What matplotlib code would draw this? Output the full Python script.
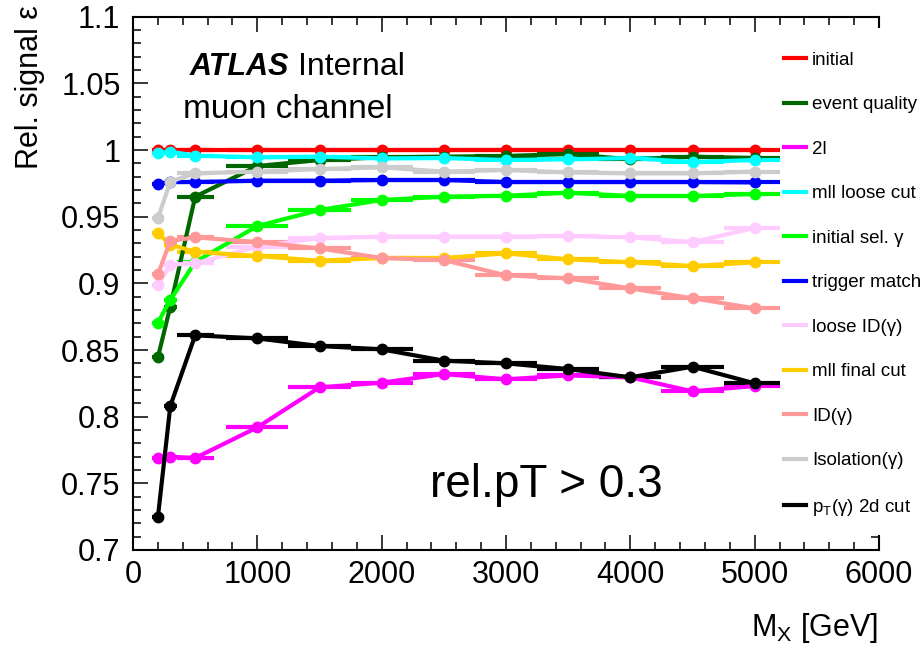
import matplotlib
matplotlib.use("Agg")
import matplotlib.pyplot as plt
from matplotlib.lines import Line2D
from matplotlib.patches import Rectangle
from matplotlib.ticker import MultipleLocator, FuncFormatter
import numpy as np

plt.rcParams['font.family'] = ['Liberation Sans', 'DejaVu Sans']
plt.rcParams['mathtext.fontset'] = 'custom'
plt.rcParams['mathtext.rm'] = 'Liberation Sans'
plt.rcParams['mathtext.it'] = 'Liberation Sans:italic'

# Signal mass points [GeV] and bin half-widths
mass = [200, 300, 500, 1000, 1500, 2000, 2500, 3000, 3500, 4000, 4500, 5000]
err_lo = [50, 50, 150, 250, 250, 250, 250, 250, 250, 250, 250, 250]
err_hi = [50, 50, 150, 250, 250, 250, 250, 250, 250, 250, 250, 200]

# Relative signal efficiency after each selection step
eff_initial = [1.0, 1.0, 1.0, 1.0, 1.0, 1.0, 1.0, 1.0, 1.0, 1.0, 1.0, 1.0]
eff_event_quality = [0.8445, 0.8825, 0.965, 0.988, 0.9925, 0.9945, 0.995, 0.9955, 0.997, 0.993, 0.995, 0.994]
eff_2l = [0.769, 0.770, 0.769, 0.792, 0.822, 0.8255, 0.832, 0.828, 0.831, 0.8295, 0.819, 0.823]
eff_mll_loose = [0.9975, 0.9988, 0.9958, 0.9945, 0.995, 0.9937, 0.994, 0.9925, 0.993, 0.994, 0.991, 0.9925]
eff_initial_sel_gamma = [0.8705, 0.8875, 0.916, 0.943, 0.955, 0.9625, 0.965, 0.9657, 0.968, 0.9655, 0.9655, 0.967]
eff_trigger_match = [0.9745, 0.976, 0.976, 0.977, 0.977, 0.9775, 0.9775, 0.976, 0.976, 0.976, 0.976, 0.9757]
eff_loose_id = [0.8985, 0.914, 0.915, 0.9275, 0.934, 0.935, 0.935, 0.935, 0.9355, 0.9345, 0.931, 0.9415]
eff_mll_final = [0.9375, 0.929, 0.9237, 0.9205, 0.917, 0.919, 0.919, 0.9225, 0.918, 0.9158, 0.913, 0.9158]
eff_id = [0.9067, 0.9318, 0.9345, 0.931, 0.9262, 0.919, 0.9175, 0.906, 0.9037, 0.8962, 0.8888, 0.8813]
eff_isolation = [0.9487, 0.9763, 0.9825, 0.9838, 0.9857, 0.987, 0.9838, 0.985, 0.9832, 0.9825, 0.9825, 0.9838]
eff_pt_2d = [0.7245, 0.808, 0.861, 0.8587, 0.853, 0.8505, 0.842, 0.840, 0.8357, 0.8295, 0.8375, 0.825]

labels = ["initial", "event quality", "2l", "mll loose cut", "initial sel. γ",
          "trigger match", "loose ID(γ)", "mll final cut", "ID(γ)",
          "Isolation(γ)", r"p$_{\mathrm{T}}$(γ) 2d cut"]
series = [eff_initial, eff_event_quality, eff_2l, eff_mll_loose, eff_initial_sel_gamma,
          eff_trigger_match, eff_loose_id, eff_mll_final, eff_id, eff_isolation, eff_pt_2d]
colors = ["#ff0000", "#006600", "#ff00ff", "#00ffff", "#00ff00",
          "#0000ff", "#ffccff", "#ffcc00", "#ff9999", "#cccccc", "#000000"]

W, H = 924, 646
fig = plt.figure(figsize=(W / 100, H / 100), dpi=100)
ax = fig.add_axes([133 / W, 1 - 550 / H, (879 - 133) / W, (550 - 16.7) / H])

for vals, col in zip(series, colors):
    ax.errorbar(mass, vals, xerr=[err_lo, err_hi], fmt='-o', color=col,
                lw=3, elinewidth=3, ms=7.5, capsize=0)

ax.set_xlim(0, 6000)
ax.set_ylim(0.7, 1.1)
ax.xaxis.set_major_locator(MultipleLocator(1000))
ax.xaxis.set_minor_locator(MultipleLocator(200))
ax.yaxis.set_major_locator(MultipleLocator(0.05))
ax.yaxis.set_minor_locator(MultipleLocator(0.01))
ax.yaxis.set_major_formatter(FuncFormatter(lambda v, p: f"{v:g}"))
ax.tick_params(which='both', direction='in', top=True, right=True, width=1.1)
ax.tick_params(which='major', length=10.5, labelsize=22, pad=7)
ax.tick_params(which='minor', length=5.5)
ax.tick_params(axis='y', which='major', pad=9)
for sp in ax.spines.values():
    sp.set_linewidth(1.5)

# Axis titles
fig.text(30 / W, 1 - 5 / H, "Rel. signal ε", rotation=90, ha='center', va='top', fontsize=22)
fig.text(878 / W, 1 - 636 / H, r"M$_{\mathrm{X}}$ [GeV]", ha='right', va='baseline', fontsize=22)

# Labels
fig.text(190 / W, 1 - 75 / H, "ATLAS", fontsize=22, fontweight='bold', style='italic', va='baseline')
fig.text(298 / W, 1 - 75 / H, "Internal", fontsize=23, va='baseline')
fig.text(183 / W, 1 - 118 / H, "muon channel", fontsize=24, va='baseline')
fig.text(430 / W, 1 - 497 / H, "rel.pT > 0.3", fontsize=33, va='baseline')

# White legend pad over the right frame
ax.add_patch(Rectangle((780 / W, 1 - 535 / H), (W - 780) / W, (535 - 28) / H,
                       transform=fig.transFigure, facecolor='white', edgecolor='none',
                       clip_on=False, zorder=9))

handles = [Line2D([], [], color=c, lw=3) for c in colors]
leg = ax.legend(handles, labels, loc='upper left',
                bbox_to_anchor=(778 / W, 1 - 46 / H), bbox_transform=fig.transFigure,
                fontsize=13.5, handlelength=1.2, handletextpad=0.3,
                labelspacing=1.46, borderpad=0.3, borderaxespad=0,
                frameon=False)
leg.set_zorder(10)

fig.savefig("out.png", dpi=100)
